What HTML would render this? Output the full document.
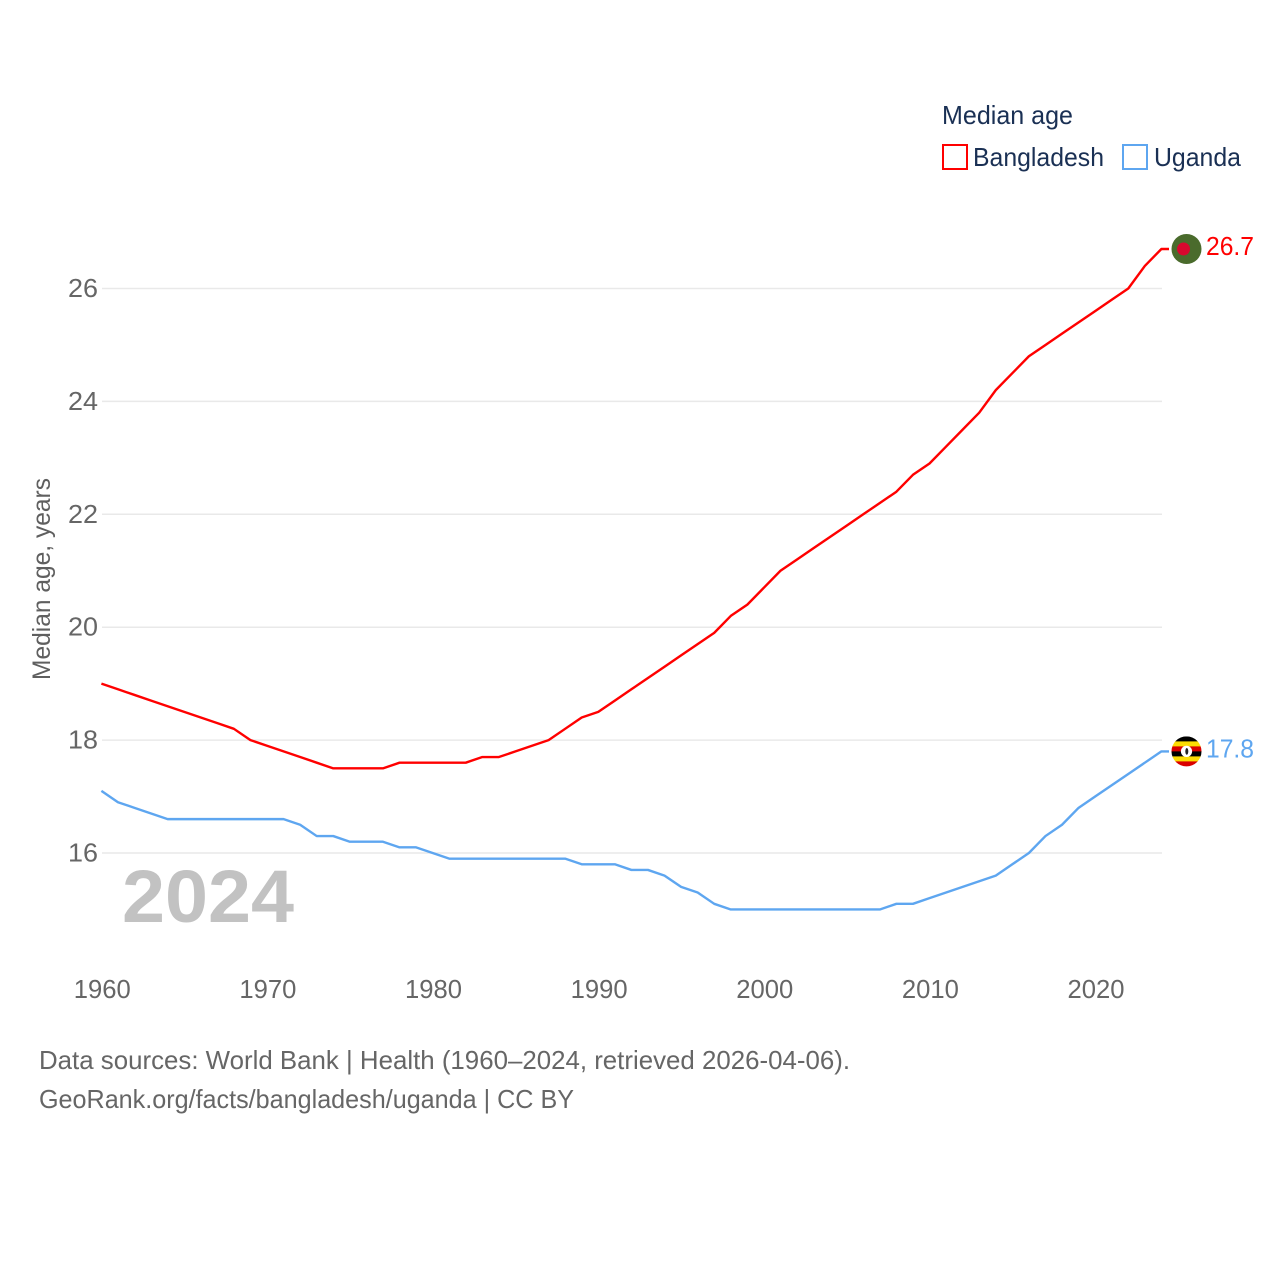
<!DOCTYPE html>
<html>
<head>
<meta charset="utf-8">
<title>Median age: Bangladesh and Uganda</title>
<style>
html,body{margin:0;padding:0;background:#fff}
svg{display:block}
text{font-family:"Liberation Sans",sans-serif}
</style>
</head>
<body>
<svg id="chart" xmlns="http://www.w3.org/2000/svg" width="1280" height="1280" viewBox="0 0 1280 1280">
  <rect width="1280" height="1280" fill="#ffffff"/>
  <g id="grid"></g>
  <g id="yticks"></g>
  <g id="xticks"></g>
  <text transform="translate(50,680) rotate(-90)" font-size="25" fill="#5f5f5f" textLength="202" lengthAdjust="spacingAndGlyphs">Median age, years</text>
  <text x="122" y="922" font-size="74" font-weight="bold" fill="#c2c2c2" textLength="172" lengthAdjust="spacingAndGlyphs">2024</text>
  <g id="series"></g>
  <g id="markers"></g>
  <g>
    <text x="942" y="124" font-size="26" fill="#1a3054" textLength="131" lengthAdjust="spacingAndGlyphs">Median age</text>
    <rect x="943" y="145" width="24" height="24" fill="#fff" stroke="#ff0000" stroke-width="2"/>
    <text x="973" y="166" font-size="26" fill="#1a3054" textLength="131" lengthAdjust="spacingAndGlyphs">Bangladesh</text>
    <rect x="1123" y="145" width="24" height="24" fill="#fff" stroke="#5ea6f0" stroke-width="2"/>
    <text x="1154" y="166" font-size="26" fill="#1a3054" textLength="87" lengthAdjust="spacingAndGlyphs">Uganda</text>
  </g>
  <text x="39" y="1069" font-size="26" fill="#666666" textLength="811" lengthAdjust="spacingAndGlyphs">Data sources: World Bank | Health (1960–2024, retrieved 2026-04-06).</text>
  <text x="39" y="1108" font-size="26" fill="#666666" textLength="535" lengthAdjust="spacingAndGlyphs">GeoRank.org/facts/bangladesh/uganda | CC BY</text>
</svg>
<script>
const years = [1960,1961,1962,1963,1964,1965,1966,1967,1968,1969,1970,1971,1972,1973,1974,1975,1976,1977,1978,1979,1980,1981,1982,1983,1984,1985,1986,1987,1988,1989,1990,1991,1992,1993,1994,1995,1996,1997,1998,1999,2000,2001,2002,2003,2004,2005,2006,2007,2008,2009,2010,2011,2012,2013,2014,2015,2016,2017,2018,2019,2020,2021,2022,2023,2024];
const bangladesh = [19.0,18.9,18.8,18.7,18.6,18.5,18.4,18.3,18.2,18.0,17.9,17.8,17.7,17.6,17.5,17.5,17.5,17.5,17.6,17.6,17.6,17.6,17.6,17.7,17.7,17.8,17.9,18.0,18.2,18.4,18.5,18.7,18.9,19.1,19.3,19.5,19.7,19.9,20.2,20.4,20.7,21.0,21.2,21.4,21.6,21.8,22.0,22.2,22.4,22.7,22.9,23.2,23.5,23.8,24.2,24.5,24.8,25.0,25.2,25.4,25.6,25.8,26.0,26.4,26.7];
const uganda = [17.1,16.9,16.8,16.7,16.6,16.6,16.6,16.6,16.6,16.6,16.6,16.6,16.5,16.3,16.3,16.2,16.2,16.2,16.1,16.1,16.0,15.9,15.9,15.9,15.9,15.9,15.9,15.9,15.9,15.8,15.8,15.8,15.7,15.7,15.6,15.4,15.3,15.1,15.0,15.0,15.0,15.0,15.0,15.0,15.0,15.0,15.0,15.0,15.1,15.1,15.2,15.3,15.4,15.5,15.6,15.8,16.0,16.3,16.5,16.8,17.0,17.2,17.4,17.6,17.8];
const yTicks = [16,18,20,22,24,26];
const xTicks = [1960,1970,1980,1990,2000,2010,2020];

const NS = 'http://www.w3.org/2000/svg';
const xScale = v => 101.4 + (v - 1960) * 16.5625;
const yScale = v => 853 - (v - 16) * 56.45;

function make(tag, attrs, parent, txt) {
  const el = document.createElementNS(NS, tag);
  for (const k in attrs) el.setAttribute(k, attrs[k]);
  if (txt !== undefined) el.textContent = txt;
  parent.appendChild(el);
  return el;
}

const grid = document.getElementById('grid');
const yG = document.getElementById('yticks');
yTicks.forEach(t => {
  const ln = make('line', {x1:102, x2:1162, y1:yScale(t), y2:yScale(t), stroke:'#e9e9e9', 'stroke-width':1.5}, grid);
  
  
  const lb = make('text', {x:98, y:yScale(t)+8.5, 'text-anchor':'end', 'font-size':26, fill:'#666666', textLength:30, lengthAdjust:'spacingAndGlyphs'}, yG, String(t));
  
  
});

const xG = document.getElementById('xticks');
xTicks.forEach(t => {
  const lb = make('text', {x:xScale(t)+0.9, y:998, 'text-anchor':'middle', 'font-size':26, fill:'#666666', textLength:57, lengthAdjust:'spacingAndGlyphs'}, xG, String(t));
  
  
});

const seriesG = document.getElementById('series');
function linePath(values) {
  let d = values.map((v, i) => (i ? 'L' : 'M') + xScale(years[i]).toFixed(2) + ' ' + yScale(v).toFixed(2)).join(' ');
  d += ' L1169 ' + yScale(values[values.length - 1]).toFixed(2);
  return d;
}
const lineB = make('path', {d:linePath(bangladesh), fill:'none', stroke:'#ff0000', 'stroke-width':2.4, 'stroke-linejoin':'round'}, seriesG);


const lineU = make('path', {d:linePath(uganda), fill:'none', stroke:'#5ea6f0', 'stroke-width':2.4, 'stroke-linejoin':'round'}, seriesG);



const markers = document.getElementById('markers');
const lastB = bangladesh[bangladesh.length - 1];
const lastU = uganda[uganda.length - 1];
const by = yScale(lastB);
const uy = yScale(lastU);

const flagB = make('g', {}, markers);


make('circle', {cx:1186.5, cy:by, r:15, fill:'#4a6b2c'}, flagB);
make('circle', {cx:1183.5, cy:by, r:6.5, fill:'#d8082e'}, flagB);

const defs = make('defs', {}, markers);
const clip = make('clipPath', {id:'ugClip'}, defs);
make('circle', {cx:1186.5, cy:uy, r:15}, clip);
const flagU = make('g', {'clip-path':'url(#ugClip)'}, markers);


['#000000','#fcdc04','#d90000','#000000','#fcdc04','#d90000'].forEach((c, i) => {
  make('rect', {x:1171, y:uy - 15 + i * 5, width:31, height:5.2, fill:c}, flagU);
});
make('circle', {cx:1186.5, cy:uy, r:5.6, fill:'#ffffff'}, flagU);
make('ellipse', {cx:1186.8, cy:uy, rx:1.5, ry:3.4, fill:'#222222'}, flagU);

const labB = make('text', {x:1206, y:by+6, 'font-size':26, fill:'#ff0000', textLength:48, lengthAdjust:'spacingAndGlyphs'}, markers, lastB.toFixed(1));


const labU = make('text', {x:1206, y:uy+6, 'font-size':26, fill:'#5ea6f0', textLength:48, lengthAdjust:'spacingAndGlyphs'}, markers, lastU.toFixed(1));


</script>
</body>
</html>
